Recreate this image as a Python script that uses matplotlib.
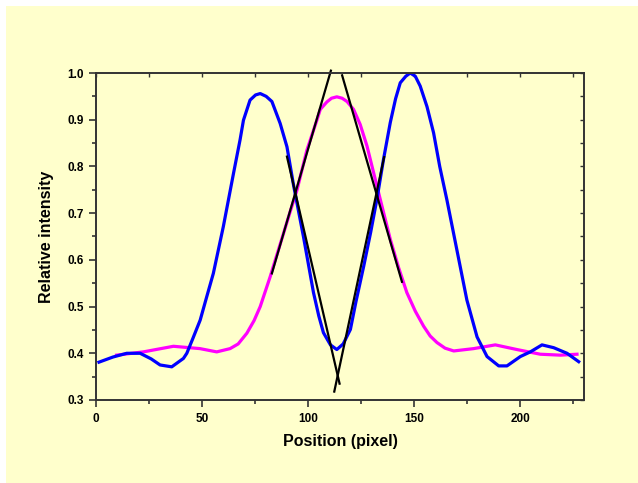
import numpy as np
import matplotlib.pyplot as plt
from matplotlib.patches import Rectangle
from matplotlib.ticker import MultipleLocator

# Blue profile (two peaks)
blue_x = [1.4, 8, 14.5, 20.8, 26, 30.2, 35.7, 41.2, 42.8, 45.5, 49.1, 52, 55.3, 60.0,
          64.8, 67.9, 69.5, 72.6, 75.2, 77.4, 80.2, 82.9, 86.8, 90.0, 93.1, 97.8,
          102.5, 105.0, 107.2, 110.5, 113.5, 116.5, 119.9, 122.5, 126.2, 129.5, 132.4,
          135.5, 138.7, 141.2, 143.4, 146.0, 148.1, 150.5, 152.8, 156, 159.1, 162.0,
          165.4, 170.1, 174.8, 179.6, 184.3, 189.8, 193.7, 200, 204.7, 210.2, 215.7,
          222, 227.5]
blue_y = [0.381, 0.392, 0.400, 0.400, 0.388, 0.375, 0.371, 0.389, 0.400, 0.430, 0.471,
          0.518, 0.571, 0.671, 0.785, 0.857, 0.899, 0.942, 0.953, 0.956, 0.950, 0.939,
          0.892, 0.842, 0.760, 0.649, 0.530, 0.480, 0.444, 0.418, 0.408, 0.420, 0.451,
          0.510, 0.587, 0.660, 0.730, 0.815, 0.894, 0.945, 0.979, 0.993, 1.000, 0.993,
          0.972, 0.928, 0.872, 0.800, 0.728, 0.621, 0.514, 0.435, 0.393, 0.373, 0.373,
          0.393, 0.403, 0.418, 0.412, 0.400, 0.382]

# Magenta profile (single peak)
mag_x = [9.7, 22.3, 36.5, 49, 56.9, 63.2, 67.0, 71.1, 74.5, 77.4, 82.1, 85.2, 88.4,
         91.5, 94.7, 99.4, 104.1, 105.7, 108.8, 111.0, 113.5, 116.0, 118.3, 121.4,
         124.5, 127.7, 132.4, 138.7, 142.5, 146.5, 150.5, 154.4, 157.5, 160.7, 164.5,
         168.6, 178, 188.2, 198.4, 209.4, 218.9, 226.7]
mag_y = [0.396, 0.403, 0.415, 0.410, 0.403, 0.410, 0.420, 0.443, 0.470, 0.500, 0.564,
         0.610, 0.657, 0.703, 0.749, 0.835, 0.899, 0.922, 0.938, 0.946, 0.949, 0.946,
         0.939, 0.922, 0.890, 0.844, 0.758, 0.644, 0.585, 0.530, 0.490, 0.458, 0.437,
         0.423, 0.411, 0.405, 0.410, 0.418, 0.408, 0.398, 0.396, 0.398]

# Tangent lines: (x0, y0, x1, y1)
tangents = [(82.9, 0.571, 110.7, 1.005),
            (90.0, 0.821, 114.8, 0.335),
            (112.3, 0.318, 135.8, 0.820),
            (116.0, 0.995, 144.2, 0.553)]

plt.rcParams['font.family'] = ['Liberation Sans', 'DejaVu Sans']
plt.rcParams['font.weight'] = 'bold'

fig = plt.figure(figsize=(6.38, 4.83), dpi=100, facecolor='white')
fig.patches.append(Rectangle((6 / 638, 0), 1, 1 - 6 / 483, transform=fig.transFigure,
                             facecolor='#FFFFCC', edgecolor='none', zorder=-1))

ax = fig.add_axes([96 / 638, 1 - 400 / 483, 488 / 638, 327 / 483])
ax.set_facecolor('#FFFFCC')

ax.plot(mag_x, mag_y, color='#FF00FF', linewidth=2.3)
ax.plot(blue_x, blue_y, color='#0000FF', linewidth=2.3)
for x0, y0, x1, y1 in tangents:
    ax.plot([x0, x1], [y0, y1], color='black', linewidth=1.6, clip_on=False)

ax.set_xlim(0, 230)
ax.set_ylim(0.3, 1.0)
ax.xaxis.set_major_locator(MultipleLocator(50))
ax.xaxis.set_minor_locator(MultipleLocator(25))
ax.yaxis.set_major_locator(MultipleLocator(0.1))
ax.yaxis.set_minor_locator(MultipleLocator(0.05))
ax.yaxis.set_major_formatter(plt.FormatStrFormatter('%.1f'))

for s in ax.spines.values():
    s.set_color('#333333')
    s.set_linewidth(1.4)

ax.tick_params(which='both', direction='out', top=False, right=False,
               labelsize=8.5, width=1.2, color='#333333', pad=4)
ax.tick_params(which='major', length=5)
ax.tick_params(which='minor', length=3)

# inward ticks on top and right
sec_x = ax.secondary_xaxis('top')
sec_x.xaxis.set_major_locator(MultipleLocator(50))
sec_x.xaxis.set_minor_locator(MultipleLocator(25))
sec_x.tick_params(which='both', direction='in', length=3, width=1, labeltop=False,
                  color='#333333')
sec_x.spines['top'].set_visible(False)
sec_y = ax.secondary_yaxis('right')
sec_y.yaxis.set_major_locator(MultipleLocator(0.1))
sec_y.yaxis.set_minor_locator(MultipleLocator(0.05))
sec_y.tick_params(which='both', direction='in', length=3, width=1, labelright=False,
                  color='#333333')
sec_y.spines['right'].set_visible(False)

ax.set_xlabel('Position (pixel)', fontsize=11.5, fontweight='bold', labelpad=7)
ax.set_ylabel('Relative intensity', fontsize=11.5, fontweight='bold', labelpad=9)

fig.savefig('out.png', dpi=100, facecolor=fig.get_facecolor())
